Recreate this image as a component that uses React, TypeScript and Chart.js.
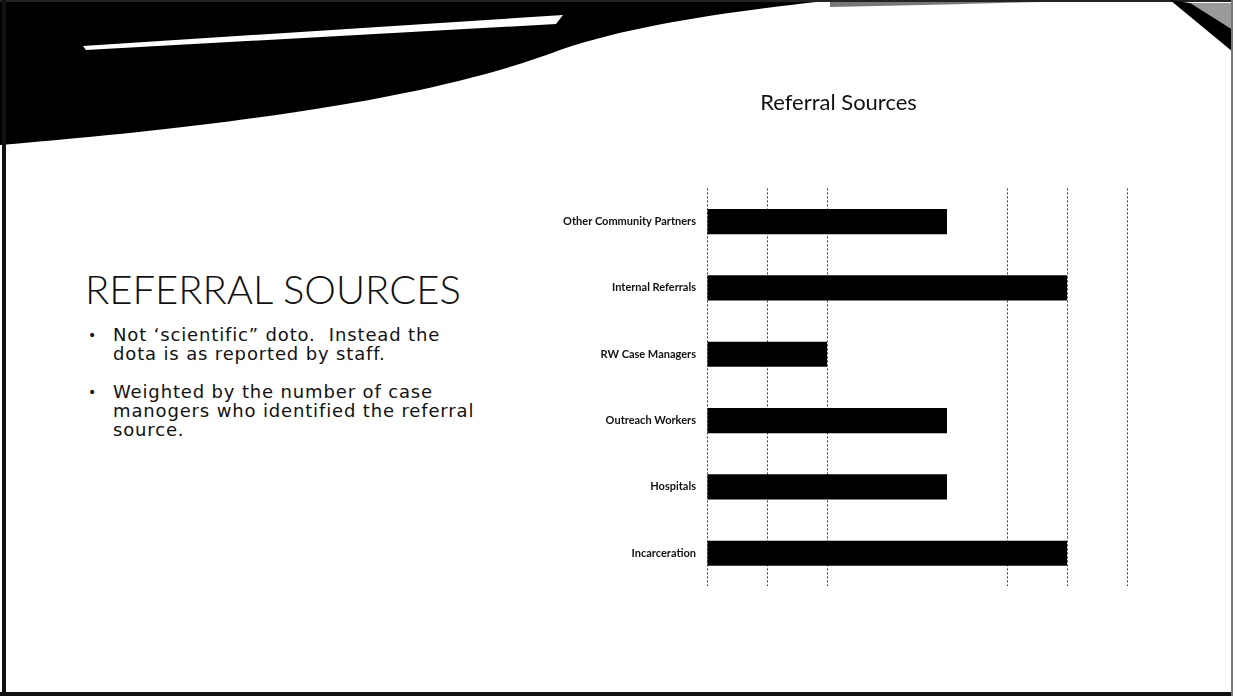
import React, { useEffect, useRef } from 'react';
import { Chart, registerables } from 'chart.js';

Chart.register(...registerables);

// ---- data ----
const categories = [
  'Other Community Partners',
  'Internal Referrals',
  'RW Case Managers',
  'Outreach Workers',
  'Hospitals',
  'Incarceration',
];
const values = [4, 6, 2, 4, 4, 6];
const axisMin = 0;
const axisMax = 7;
const hiddenGridValues = [3, 4];
const chartTitle = 'Referral Sources';
const heading = 'REFERRAL SOURCES';
const bulletLines = [
  ['Not \u2018scientific\u201d doto.  Instead the', 'dota is as reported by staff.'],
  ['Weighted by the number of case', 'manogers who identified the referral', 'source.'],
];

const FONT = 'Lato, "Open Sans", "DejaVu Sans", sans-serif';
const BODY_FONT = '"DejaVu Sans", Lato, sans-serif';

function ChartBox() {
  const ref = useRef<HTMLCanvasElement | null>(null);
  useEffect(() => {
    if (!ref.current) return;
    const chart = new Chart(ref.current, {
      type: 'bar',
      data: {
        labels: categories,
        datasets: [
          {
            data: values,
            backgroundColor: '#000000',
            borderWidth: 0,
            categoryPercentage: 1,
            barPercentage: 0.38,
          },
        ],
      },
      options: {
        indexAxis: 'y',
        animation: false,
        responsive: false,
        maintainAspectRatio: false,
        layout: { padding: { left: 0, right: 13, top: 0, bottom: 5 } },
        plugins: {
          legend: { display: false },
          tooltip: { enabled: false },
          title: {
            display: true,
            text: chartTitle,
            color: '#111',
            font: { family: FONT, size: 22, weight: 'normal' as any },
            padding: { top: 10, bottom: 72 },
          },
        },
        scales: {
          x: {
            min: axisMin,
            max: axisMax,
            ticks: { display: false, stepSize: 1 },
            border: { display: false, dash: [2, 2] },
            grid: {
              drawTicks: false,
              lineWidth: 1,
              color: (ctx: any) =>
                ctx.tick && hiddenGridValues.includes(ctx.tick.value) ? 'rgba(0,0,0,0)' : '#3a3a3a',
            },
            afterFit: (scale: any) => {
              scale.height = 0;
            },
          } as any,
          y: {
            ticks: {
              color: '#111',
              padding: 11,
              font: { family: FONT, size: 11, weight: 'bold' as any },
            },
            border: { display: false },
            grid: { display: false, drawTicks: false },
            afterFit: (scale: any) => {
              scale.width = 157;
            },
          } as any,
        },
      },
    });
    return () => chart.destroy();
  }, []);
  return (
    <canvas
      ref={ref}
      width={590}
      height={524}
      style={{ position: 'absolute', left: 550, top: 80, width: 590, height: 524 }}
    />
  );
}

export default function App() {
  return (
    <div
      style={{
        position: 'fixed',
        left: 0,
        top: 0,
        width: 1233,
        height: 696,
        background: '#ffffff',
        overflow: 'hidden',
        fontFamily: FONT,
        color: '#111',
      }}
    >
      <svg width={1233} height={696} style={{ position: 'absolute', left: 0, top: 0 }}>
        {/* top swoosh */}
        <path d="M0,0 L835,0 C760,8 640,22 560,50 C460,88 300,120 0,145 Z" fill="#000" />
        <path d="M83,46 L563,15 L556,24 L86,50 Z" fill="#fff" />
        <path d="M830,0 L1040,0 L1040,2 C960,4 900,6 830,7 Z" fill="#777" />
        {/* top line */}
        <rect x={0} y={0} width={1233} height={2} fill="#222" />
        {/* right corner */}
        <path d="M1188,3 L1233,3 L1233,30 Z" fill="#9a9a9a" />
        <path d="M1170,0 L1190,3 L1233,30 L1233,52 Z" fill="#000" />
        {/* frame */}
        <rect x={2} y={0} width={4} height={696} fill="#111" />
        <rect x={0} y={692} width={1233} height={4} fill="#111" />
        <rect x={1231} y={0} width={2} height={696} fill="#777" />
      </svg>

      <div
        style={{
          position: 'absolute',
          left: 85,
          top: 269,
          fontSize: 40,
          lineHeight: '40px',
          fontWeight: 300,
          whiteSpace: 'pre',
        }}
      >
        {heading}
      </div>

      {bulletLines.map((lines, i) => {
        const top = i === 0 ? 325 : 382;
        return (
          <div key={i} style={{ position: 'absolute', left: 0, top, width: 560, fontFamily: BODY_FONT }}>
            <div
              style={{
                position: 'absolute',
                left: 88,
                top: 1,
                fontSize: 14,
                lineHeight: '19px',
              }}
            >
              {'\u2022'}
            </div>
            {lines.map((ln, j) => (
              <div
                key={j}
                style={{
                  position: 'absolute',
                  left: 113,
                  top: j * 19,
                  fontSize: 18,
                  lineHeight: '19px',
                  letterSpacing: '0.85px',
                  whiteSpace: 'pre',
                }}
              >
                {ln}
              </div>
            ))}
          </div>
        );
      })}

      <ChartBox />
    </div>
  );
}
